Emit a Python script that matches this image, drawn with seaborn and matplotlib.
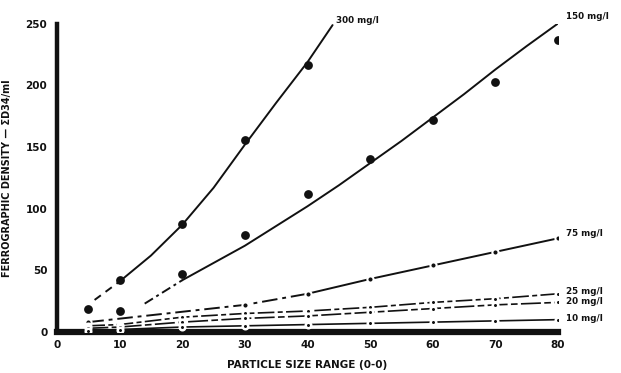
import matplotlib
matplotlib.use("Agg")
import matplotlib.pyplot as plt
import seaborn as sns

# Particle size classes (x) and ferrographic density readings per loading
size_classes = [5, 10, 20, 30, 40, 50, 60, 70, 80]

x_300 = [5, 10, 20, 30, 40]
y_300 = [19, 42, 88, 156, 217]

x_150 = [10, 20, 30, 40, 50, 60, 70, 80]
y_150 = [17, 47, 79, 112, 140, 172, 203, 237]

x_75 = [5, 30, 40, 50, 60, 70, 80]
y_75 = [8, 22, 31, 43, 54, 65, 76]

y_25 = [5, 6, 12, 15, 17, 20, 24, 27, 31]
y_20 = [3, 4, 8, 11, 13, 16, 19, 22, 24]
y_10 = [1, 2, 4, 5, 6, 7, 8, 9, 10]

# Hand-fitted trend curves through the 300 and 150 mg/l readings
fit_300_x = [6, 10, 15, 20, 25, 30, 35, 40, 44]
fit_300_y = [26, 41, 62, 87, 117, 152, 186, 219, 249]
fit_150_x = [14, 20, 25, 30, 35, 40, 45, 50, 55, 60, 65, 70, 75, 81]
fit_150_y = [23, 42, 56, 70, 86, 102, 119, 137, 155, 174, 193, 213, 232, 254]

curve_labels = ["300 mg/l", "150 mg/l", "75 mg/l", "25 mg/l", "20 mg/l", "10 mg/l"]
x_ticks = [0, 10, 20, 30, 40, 50, 60, 70, 80]
y_ticks = [0, 50, 100, 150, 200, 250]

sns.set_style("white")
plt.rcParams["font.family"] = ["DejaVu Sans"]
plt.rcParams["font.weight"] = "bold"

fig = plt.figure(figsize=(6.21, 3.73), dpi=100)
ax = fig.add_axes([0.0918, 0.110, 0.8068, 0.826])
ax.set_xlim(0, 80)
ax.set_ylim(0, 250)

ink = "#111111"
lw = 1.4


def split(xs, ys, x_cut):
    a = [(x, y) for x, y in zip(xs, ys) if x <= x_cut]
    b = [(x, y) for x, y in zip(xs, ys) if x >= x_cut]
    return a, b


def draw(pairs, style, width=lw):
    if len(pairs) < 2:
        return
    xs, ys = zip(*pairs)
    sns.lineplot(x=list(xs), y=list(ys), ax=ax, color=ink, linewidth=width,
                 linestyle=style, sort=False, estimator=None)


# 300 mg/l: dashed start then solid curve
a, b = split(fit_300_x, fit_300_y, 10)
draw(a, (0, (4, 3)))
draw(b, "-")

# 150 mg/l: dash-dot start then solid
a, b = split(fit_150_x, fit_150_y, 20)
draw(a, (0, (5, 2, 1.5, 2)))
draw(b, "-")

# 75 mg/l: dash-dot up to 40, then solid
a, b = split(x_75, y_75, 40)
draw(a, (0, (8, 2.5, 2, 2.5)))
draw(b, "-")

# low loadings
draw(list(zip(size_classes, y_25)), (0, (10, 2, 3, 2)), 1.2)
draw(list(zip(size_classes, y_20)), (0, (12, 2, 4, 2)), 1.2)
draw(list(zip(size_classes, y_10)), "-", 1.2)

# measured readings
sns.scatterplot(x=x_300, y=y_300, ax=ax, color=ink, s=40, linewidth=0, zorder=5)
sns.scatterplot(x=x_150, y=y_150, ax=ax, color=ink, s=40, linewidth=0, zorder=5)
sns.scatterplot(x=x_75, y=y_75, ax=ax, color=ink, s=20, edgecolor="white",
                linewidth=1.5, zorder=5)
for ys in (y_25, y_20, y_10):
    sns.scatterplot(x=size_classes, y=ys, ax=ax, color=ink, s=16, edgecolor="white",
                    linewidth=1.8, zorder=5)

# curve labels
label_pos = [(44.6, 253), (81.3, 256), (81.3, 80), (81.3, 33), (81.3, 25), (81.3, 11)]
for txt, (lx, ly) in zip(curve_labels, label_pos):
    ax.text(lx, ly, txt, fontsize=6.3, fontweight="bold", color=ink,
            ha="left", va="center", clip_on=False)

# axes styling
sns.despine(ax=ax)
ax.spines["left"].set_linewidth(3.2)
ax.spines["bottom"].set_linewidth(4.5)
ax.spines["left"].set_color(ink)
ax.spines["bottom"].set_color(ink)
ax.set_xticks(x_ticks)
ax.set_yticks(y_ticks)
ax.set_xticklabels([str(t) for t in x_ticks])
ax.set_yticklabels([str(t) for t in y_ticks])
ax.tick_params(axis="both", length=0, labelsize=7.5, colors=ink)
ax.tick_params(axis="x", pad=6)
ax.tick_params(axis="y", pad=7)
for lab in ax.get_xticklabels() + ax.get_yticklabels():
    lab.set_fontweight("bold")
ax.grid(False)

ax.set_xlabel("PARTICLE SIZE RANGE (0-0)", fontsize=7.5, fontweight="bold",
              color=ink, labelpad=7)
ax.set_ylabel("FERROGRAPHIC DENSITY — ΣD34/ml", fontsize=7, fontweight="bold",
              color=ink, labelpad=10)

fig.savefig("out.png", dpi=100, facecolor="white")
